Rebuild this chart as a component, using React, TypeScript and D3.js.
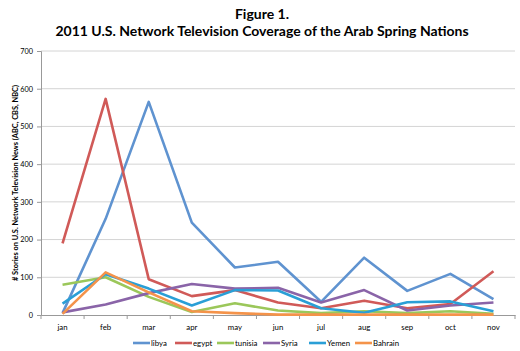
import { useRef, useEffect } from "react";
import { select, scaleBand, scaleLinear, axisLeft, axisBottom, line } from "d3";

const months = ["jan", "feb", "mar", "apr", "may", "jun", "jul", "aug", "sep", "oct", "nov"];
const libya = [5, 255, 565, 245, 126, 141, 35, 152, 64, 109, 42];
const egypt = [190, 573, 95, 50, 66, 33, 18, 38, 18, 29, 116];
const tunisia = [80, 100, 48, 8, 31, 12, 5, 10, 5, 10, 3];
const syria = [7, 28, 58, 82, 70, 72, 33, 66, 12, 25, 33];
const yemen = [30, 108, 70, 25, 66, 65, 18, 6, 34, 36, 10];
const bahrain = [3, 113, 60, 10, 5, 1, 1, 1, 1, 1, 1];
const yTicks = [0, 100, 200, 300, 400, 500, 600, 700];

const seriesNames = ["libya", "egypt", "tunisia", "Syria", "Yemen", "Bahrain"];
const seriesValues = [libya, egypt, tunisia, syria, yemen, bahrain];
const colors = ["#5f93d0", "#d05a58", "#9bc75a", "#8a64a8", "#2a9fd6", "#f4934a"];

const W = 520;
const H = 351;
const margin = { left: 41, right: 5, top: 51, bottom: 36 };
const font = "Lato, 'Open Sans', sans-serif";

export default function App() {
  const svgRef = useRef<SVGSVGElement>(null);

  useEffect(() => {
    const svg = select(svgRef.current);
    svg.selectAll("*").remove();

    const x = scaleBand<string>()
      .domain(months)
      .range([margin.left, W - margin.right]);
    const y = scaleLinear().domain([0, 700]).range([H - margin.bottom, margin.top]);

    // title
    const title = svg.append("g").attr("font-family", font).attr("font-weight", "bold")
      .attr("text-anchor", "middle").attr("fill", "#000");
    title.append("text").attr("x", 262).attr("y", 19).attr("font-size", 14).text("Figure 1.");
    title.append("text").attr("x", 262).attr("y", 36).attr("font-size", 14)
      .text("2011 U.S. Network Television Coverage of the Arab Spring Nations");

    // gridlines
    svg.append("g")
      .selectAll("line")
      .data(yTicks.filter((d) => d > 0))
      .join("line")
      .attr("x1", margin.left)
      .attr("x2", W - margin.right)
      .attr("y1", (d) => y(d))
      .attr("y2", (d) => y(d))
      .attr("stroke", "#d4d4d4")
      .attr("stroke-width", 1);

    // y axis
    const yAxis = svg.append("g")
      .attr("transform", `translate(${margin.left},0)`)
      .call(axisLeft(y).tickValues(yTicks).tickSize(4).tickPadding(4));
    yAxis.select(".domain").attr("stroke", "#999");
    yAxis.selectAll(".tick line").attr("stroke", "#999");
    yAxis.selectAll("text").attr("font-family", font).attr("font-size", 7.3).attr("fill", "#000");

    // x axis
    const xAxis = svg.append("g")
      .attr("transform", `translate(0,${y(0)})`)
      .call(axisBottom(x).tickSize(0).tickPadding(9));
    xAxis.select(".domain").attr("stroke", "#999");
    xAxis.selectAll("text").attr("font-family", font).attr("font-size", 7.8).attr("fill", "#000");
    // boundary ticks between categories
    xAxis.append("g")
      .selectAll("line")
      .data(months)
      .join("line")
      .attr("x1", (d) => x(d) as number)
      .attr("x2", (d) => x(d) as number)
      .attr("y1", 0)
      .attr("y2", 4)
      .attr("stroke", "#999");
    xAxis.append("line")
      .attr("x1", W - margin.right).attr("x2", W - margin.right)
      .attr("y1", 0).attr("y2", 4).attr("stroke", "#999");

    // y label
    svg.append("text")
      .attr("transform", `translate(18,${(y(0) + y(700)) / 2}) rotate(-90)`)
      .attr("text-anchor", "middle")
      .attr("font-family", font)
      .attr("font-weight", "bold")
      .attr("font-size", 7.4)
      .text("# Stories on U.S. Network Television News (ABC, CBS, NBC)");

    // lines
    const lineGen = line<number>()
      .x((_, i) => (x(months[i]) as number) + x.bandwidth() / 2)
      .y((d) => y(d));

    svg.append("g")
      .selectAll("path")
      .data(seriesValues)
      .join("path")
      .attr("d", (d) => lineGen(d))
      .attr("fill", "none")
      .attr("stroke", (_, i) => colors[i])
      .attr("stroke-width", 2.6)
      .attr("stroke-linejoin", "round");

    // legend
    const legendX = [133, 175, 217, 263, 309, 355];
    const legend = svg.append("g").attr("font-family", font).attr("font-size", 7.8);
    seriesNames.forEach((name, i) => {
      legend.append("line")
        .attr("x1", legendX[i]).attr("x2", legendX[i] + 17)
        .attr("y1", 343).attr("y2", 343)
        .attr("stroke", colors[i]).attr("stroke-width", 2.6);
      legend.append("text")
        .attr("x", legendX[i] + 18).attr("y", 345.5)
        .text(name);
    });
  }, []);

  return (
    <div style={{ position: "absolute", left: 0, top: 0 }}>
      <svg ref={svgRef} width={W} height={H} style={{ display: "block", background: "#fff" }} />
    </div>
  );
}
